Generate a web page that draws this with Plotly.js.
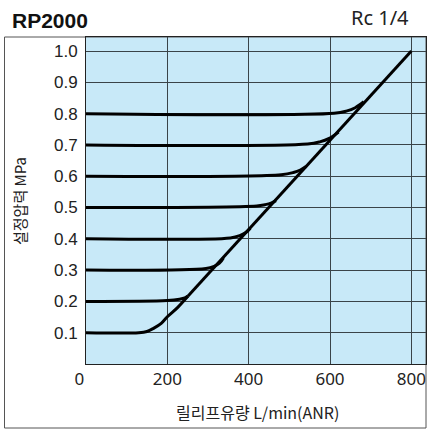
<!DOCTYPE html>
<html>
<head>
<meta charset="utf-8">
<script src="https://cdn.plot.ly/plotly-3.0.1.min.js"></script>
<style>html,body{margin:0;padding:0;background:#fff;}#chart{width:428px;height:430px;}</style>
</head>
<body>
<div id="chart"></div>
<script>
// Set pressures (MPa)
const setPressures = [0.1, 0.2, 0.3, 0.4, 0.5, 0.6, 0.7, 0.8];
// Relief flow (L/min ANR) and pressure (MPa) for each set-pressure curve
const curveX = {
  0.1: [0, 130, 150, 166, 185, 200, 225, 251],
  0.2: [0, 200, 230, 243, 251],
  0.3: [0, 295, 315, 328, 338],
  0.4: [0, 355, 378, 393, 404],
  0.5: [0, 420, 440, 455, 467],
  0.6: [0, 480, 510, 527, 541],
  0.7: [0, 545, 575, 598, 621],
  0.8: [0, 610, 640, 662, 683]
};
const curveY = {
  0.1: [0.100, 0.100, 0.104, 0.114, 0.130, 0.151, 0.180, 0.217],
  0.2: [0.200, 0.203, 0.207, 0.211, 0.217],
  0.3: [0.300, 0.305, 0.312, 0.322, 0.339],
  0.4: [0.400, 0.403, 0.410, 0.420, 0.434],
  0.5: [0.500, 0.505, 0.509, 0.514, 0.522],
  0.6: [0.600, 0.605, 0.612, 0.620, 0.631],
  0.7: [0.700, 0.703, 0.710, 0.721, 0.741],
  0.8: [0.800, 0.801, 0.808, 0.819, 0.838]
};
// Maximum relief line
const maxLineX = [251, 800];
const maxLineY = [0.217, 1.0];

const xTicks = [0, 200, 400, 600, 800];
const xTickText = ['0\u00a0\u00a0\u00a0', '200', '400', '600', '800'];
const yTicks = [0.1, 0.2, 0.3, 0.4, 0.5, 0.6, 0.7, 0.8, 0.9, 1.0];
const yTickText = ['0.1','0.2','0.3','0.4','0.5','0.6','0.7','0.8','0.9','1.0'];

const traces = setPressures.map(p => ({
  x: curveX[p], y: curveY[p], type: 'scatter', mode: 'lines',
  line: {color: '#000', width: 3, shape: 'spline', smoothing: 1},
  hoverinfo: 'skip'
}));
traces.push({x: maxLineX, y: maxLineY, type: 'scatter', mode: 'lines',
  line: {color: '#000', width: 3}, hoverinfo: 'skip'});

const W = 340, H = 327, L = 86, T = 37;
const px = v => (v - L) / W;
const py = v => (T + H - v) / H;

const layout = {
  width: 428, height: 430,
  margin: {l: 86, r: 2, t: 37, b: 66, pad: 0},
  paper_bgcolor: '#ffffff',
  plot_bgcolor: '#c8e9f8',
  showlegend: false,
  xaxis: {
    range: [0, 836], tickvals: xTicks, ticktext: xTickText,
    showgrid: true, gridcolor: '#3a4449', gridwidth: 1,
    zeroline: false, showline: true, linecolor: '#222', linewidth: 1, mirror: true,
    ticks: '', ticklen: 0,
    tickfont: {family: 'Noto Sans', size: 17, color: '#222'}
  },
  yaxis: {
    range: [0, 1.045], tickvals: yTicks, ticktext: yTickText,
    showgrid: true, gridcolor: '#3a4449', gridwidth: 1,
    zeroline: false, showline: true, linecolor: '#222', linewidth: 1, mirror: true,
    ticks: 'outside', ticklen: 4, tickcolor: 'rgba(0,0,0,0)',
    tickfont: {family: 'Liberation Sans', size: 17, color: '#222'}
  },
  shapes: [{
    type: 'rect', xref: 'paper', yref: 'paper',
    x0: px(4.5), x1: px(426), y0: py(428), y1: py(37),
    line: {color: '#555', width: 1}, layer: 'below'
  }],
  annotations: [
    {text: '<b>RP2000</b>', xref: 'paper', yref: 'paper', x: px(10), y: py(20),
     xanchor: 'left', yanchor: 'middle', showarrow: false,
     font: {family: 'Liberation Sans', size: 21, color: '#111'}},
    {text: 'Rc 1/4', xref: 'paper', yref: 'paper', x: px(411), y: py(18),
     xanchor: 'right', yanchor: 'middle', showarrow: false,
     font: {family: 'Noto Sans', size: 20, color: '#222'}},
    {text: '설정압력 MPa', xref: 'paper', yref: 'paper', x: px(20), y: py(201),
     xanchor: 'center', yanchor: 'middle', textangle: -90, showarrow: false,
     font: {family: 'Noto Sans CJK KR', size: 15, color: '#222'}},
    {text: '릴리프유량 L/min(ANR)', xref: 'paper', yref: 'paper', x: px(257), y: py(412),
     xanchor: 'center', yanchor: 'middle', showarrow: false,
     font: {family: 'Noto Sans CJK KR', size: 16, color: '#222'}}
  ]
};

Plotly.newPlot('chart', traces, layout, {staticPlot: true, displayModeBar: false});
</script>
</body>
</html>
